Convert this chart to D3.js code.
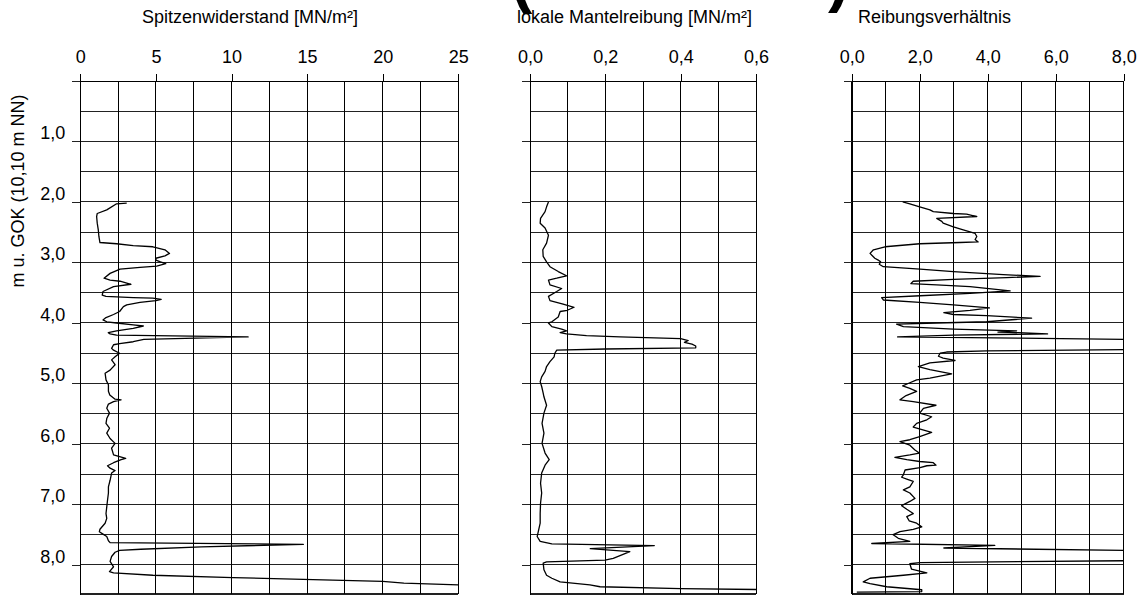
<!DOCTYPE html>
<html><head><meta charset="utf-8">
<script src="https://cdn.jsdelivr.net/npm/d3@7"></script>
<style>
body{margin:0;background:#fff}
svg{display:block}
text{font-family:"Liberation Sans",Arial,Helvetica,sans-serif;fill:#000}
</style>
</head><body>
<svg id="c" width="1142" height="595"></svg>
<script>
// ---------- data ----------
const depthTicks = [0,1,2,3,4,5,6,7,8];
const depthGrid = [0,0.5,1,1.5,2,2.5,3,3.5,4,4.5,5,5.5,6,6.5,7,7.5,8];

const qcTicks = [0,5,10,15,20,25];
const qcGrid  = [0,2.5,5,7.5,10,12.5,15,17.5,20,22.5,25];
const fsTicks = [0,0.2,0.4,0.6];
const fsGrid  = [0,0.1,0.2,0.3,0.4,0.5,0.6];
const rfTicks = [0,2,4,6,8];
const rfGrid  = [0,1,2,3,4,5,6,7,8];

const titles = ["Spitzenwiderstand [MN/m²]","lokale Mantelreibung [MN/m²]","Reibungsverhältnis"];
const depthTitle = "m u. GOK (10,10 m NN)";

const qcDepth = [2.02,2.03,2.13,2.19,2.24,2.35,2.46,2.57,2.67,2.69,2.72,2.74,2.79,2.85,2.89,2.93,2.96,2.99,3.02,3.06,3.08,3.11,3.18,3.26,3.29,3.31,3.36,3.40,3.48,3.54,3.56,3.58,3.59,3.61,3.63,3.66,3.70,3.73,3.81,3.86,3.91,3.95,3.98,4.00,4.03,4.05,4.09,4.13,4.16,4.18,4.20,4.23,4.27,4.31,4.34,4.36,4.42,4.45,4.50,4.56,4.61,4.69,4.78,4.83,4.94,5.02,5.13,5.19,5.26,5.27,5.30,5.34,5.41,5.49,5.58,5.66,5.74,5.82,5.91,5.99,6.07,6.18,6.21,6.24,6.26,6.31,6.36,6.40,6.44,6.48,6.60,6.71,6.81,6.93,7.04,7.15,7.23,7.31,7.41,7.45,7.49,7.53,7.60,7.63,7.66,7.70,7.74,7.76,7.79,7.86,7.94,8.03,8.11,8.13,8.17,8.21,8.25,8.27,8.30,8.33,8.34];
const qcValue = [3.07,2.4,1.75,1.12,1.08,1.12,1.19,1.23,1.3,2.4,3.5,4.8,5.6,5.9,5.6,5.0,5.0,5.3,5.65,5.05,3.95,2.63,1.97,1.57,1.97,2.63,3.35,2.2,1.5,1.45,1.7,3.5,4.8,5.35,5.0,3.95,3.07,2.85,2.6,2.2,1.7,1.5,1.75,2.4,3.5,4.17,3.5,2.4,1.85,1.97,2.4,11.1,4.2,3.5,2.6,2.2,2.07,2.2,2.6,2.3,2.07,2.3,1.97,1.64,1.7,1.86,1.86,1.95,2.3,2.7,2.2,1.86,1.75,1.93,1.75,1.7,1.93,1.75,1.97,2.3,2.07,2.2,2.6,3.0,2.7,2.2,1.8,1.97,2.3,2.07,1.97,1.86,1.86,1.8,1.75,1.7,1.75,1.64,1.3,1.26,1.5,1.75,1.86,1.97,14.75,8.0,4.0,2.6,2.3,2.07,1.97,2.2,1.93,2.2,4.8,10.1,16.7,20.0,21.4,25.0,26.0];

const fsDepth = [2.00,2.08,2.16,2.27,2.35,2.43,2.55,2.68,2.79,2.90,2.99,3.07,3.15,3.22,3.26,3.29,3.37,3.43,3.48,3.56,3.63,3.69,3.74,3.79,3.81,3.90,3.98,4.00,4.06,4.10,4.13,4.16,4.18,4.21,4.23,4.26,4.29,4.32,4.35,4.38,4.41,4.43,4.45,4.50,4.56,4.64,4.72,4.80,4.89,4.97,5.05,5.16,5.22,5.36,5.49,5.66,5.82,5.99,6.15,6.26,6.35,6.48,6.65,6.81,6.98,7.15,7.31,7.45,7.53,7.61,7.65,7.68,7.73,7.78,7.89,7.92,7.95,7.97,8.08,8.17,8.22,8.28,8.33,8.36,8.39,8.41];
const fsValue = [0.049,0.044,0.040,0.028,0.027,0.040,0.049,0.044,0.034,0.035,0.044,0.053,0.075,0.097,0.071,0.049,0.053,0.084,0.071,0.049,0.053,0.088,0.117,0.099,0.080,0.075,0.058,0.049,0.058,0.084,0.097,0.080,0.097,0.150,0.239,0.40,0.42,0.41,0.43,0.44,0.44,0.20,0.071,0.066,0.064,0.053,0.044,0.040,0.031,0.027,0.031,0.035,0.037,0.044,0.037,0.032,0.037,0.032,0.040,0.051,0.040,0.031,0.028,0.031,0.028,0.027,0.027,0.022,0.019,0.027,0.058,0.33,0.16,0.265,0.221,0.199,0.044,0.035,0.037,0.044,0.058,0.080,0.159,0.186,0.40,0.65];

const rfDepth = [2.00,2.03,2.08,2.13,2.16,2.19,2.20,2.24,2.27,2.32,2.35,2.41,2.46,2.52,2.57,2.62,2.66,2.67,2.69,2.74,2.79,2.85,2.93,2.96,2.99,3.03,3.07,3.11,3.15,3.20,3.23,3.25,3.28,3.31,3.35,3.37,3.40,3.47,3.51,3.55,3.58,3.62,3.66,3.70,3.75,3.79,3.83,3.86,3.88,3.92,3.98,4.00,4.02,4.06,4.10,4.13,4.15,4.16,4.18,4.20,4.23,4.25,4.27,4.28,4.43,4.44,4.46,4.48,4.50,4.55,4.58,4.62,4.66,4.72,4.77,4.84,4.91,4.94,5.00,5.04,5.08,5.13,5.20,5.27,5.30,5.36,5.41,5.49,5.55,5.60,5.66,5.72,5.81,5.88,5.93,5.96,6.02,6.10,6.15,6.18,6.22,6.26,6.29,6.31,6.35,6.36,6.39,6.43,6.51,6.55,6.58,6.62,6.71,6.76,6.81,6.90,6.95,7.02,7.08,7.15,7.20,7.27,7.31,7.37,7.41,7.45,7.50,7.56,7.61,7.645,7.675,7.72,7.76,7.77,7.92,7.93,7.96,7.98,8.07,8.13,8.17,8.22,8.28,8.31,8.36,8.41,8.44,8.45];
const rfValue = [1.5,1.71,2.0,2.3,2.4,2.99,3.38,3.68,2.5,2.65,2.69,2.99,3.28,3.63,3.68,3.63,3.72,3.18,2.0,0.98,0.64,0.54,0.68,0.78,0.85,0.81,0.93,2.01,2.99,4.46,5.54,4.56,2.99,1.81,1.74,2.5,3.48,4.66,3.48,2.01,0.88,0.93,2.0,2.99,4.05,3.48,2.71,2.99,3.97,5.29,3.97,2.5,1.32,1.52,2.99,4.85,4.3,4.9,5.76,2.99,1.35,4.95,8.0,12,12,8.0,3.97,2.79,2.6,2.55,2.69,3.04,2.3,1.96,2.3,2.94,2.3,1.91,1.66,1.5,1.71,1.91,1.6,1.42,1.81,2.48,2.11,2.0,2.35,2.21,1.91,1.81,2.35,2.0,1.71,1.42,1.71,1.86,1.99,1.71,1.27,1.62,2.0,2.4,2.48,2.21,2.01,1.57,1.52,1.47,1.62,1.81,1.71,1.52,1.71,1.86,1.71,1.47,1.62,1.81,1.62,1.69,1.91,2.06,1.81,1.42,1.22,1.37,1.71,0.59,4.21,2.71,8.0,12,12,8.0,2.0,1.71,1.76,2.21,1.52,0.54,0.34,0.54,1.03,2.06,2.06,0.15];

// ---------- chart ----------
const de = d3.formatLocale({decimal:",", thousands:".", grouping:[3], currency:["","€"]});
const f0 = de.format(".0f"), f1 = de.format(".1f");

const svg = d3.select("#c");
const TOP = 81, BOTTOM = 594;
const y = d3.scaleLinear().domain([0, 8.48]).range([TOP, BOTTOM]);

const panels = [
  {title:titles[0], tx:142, x0:80.3, x1:458.3, domain:[0,25],  ticks:qcTicks, grid:qcGrid, fmt:f0, depth:qcDepth, value:qcValue, labels:true},
  {title:titles[1], tx:517, x0:530,  x1:756,   domain:[0,0.6], ticks:fsTicks, grid:fsGrid, fmt:f1, depth:fsDepth, value:fsValue, labels:false},
  {title:titles[2], tx:858, x0:851.7,x1:1123.7,domain:[0,8],   ticks:rfTicks, grid:rfGrid, fmt:f1, depth:rfDepth, value:rfValue, labels:false}
];

const FONT = '"Liberation Sans",Arial,Helvetica,sans-serif';

panels.forEach((p, i) => {
  const x = d3.scaleLinear().domain(p.domain).range([p.x0, p.x1]);
  const g = svg.append("g");

  svg.append("clipPath").attr("id", "clip" + i)
    .append("rect").attr("x", p.x0).attr("y", TOP).attr("width", p.x1 - p.x0).attr("height", BOTTOM - TOP);

  // horizontal grid
  g.append("g").selectAll("line").data(depthGrid).join("line")
    .attr("x1", p.x0).attr("x2", p.x1)
    .attr("y1", d => y(d)).attr("y2", d => y(d))
    .attr("stroke", "#222").attr("stroke-width", 1).attr("shape-rendering", "crispEdges");
  // bottom border
  g.append("line").attr("x1", p.x0).attr("x2", p.x1).attr("y1", BOTTOM).attr("y2", BOTTOM)
    .attr("stroke", "#222").attr("stroke-width", 1.5).attr("shape-rendering", "crispEdges");
  // vertical grid
  g.append("g").selectAll("line").data(p.grid).join("line")
    .attr("x1", d => x(d)).attr("x2", d => x(d))
    .attr("y1", TOP).attr("y2", BOTTOM)
    .attr("stroke", "#000").attr("stroke-width", 1).attr("shape-rendering", "crispEdges");

  // top axis
  const ax = d3.axisTop(x).tickValues(p.ticks).tickFormat(p.fmt).tickSize(7).tickPadding(11).tickSizeOuter(0);
  const gx = g.append("g").attr("transform", `translate(0,${TOP})`).call(ax);
  gx.attr("font-size", 18).attr("font-family", FONT);
  gx.selectAll("path,line").attr("stroke", "#000").attr("shape-rendering", "crispEdges");

  // left axis
  const ay = d3.axisLeft(y).tickValues(depthTicks).tickSize(8).tickSizeOuter(0).tickPadding(7)
    .tickFormat(d => (p.labels && d > 0) ? f1(d) : "");
  const gy = g.append("g").attr("transform", `translate(${p.x0},0)`).call(ay);
  gy.attr("font-size", 18).attr("font-family", FONT);
  gy.select(".domain").attr("stroke", "#000").attr("shape-rendering", "crispEdges");
  gy.selectAll("line").attr("stroke", "#222").attr("shape-rendering", "crispEdges");
  gy.selectAll("text").attr("dy", "-0.14em");

  // title
  svg.append("text").attr("x", p.tx).attr("y", 23).attr("font-size", 18).text(p.title);

  // curve
  const idx = d3.range(p.depth.length);
  const line = d3.line().x(k => x(p.value[k])).y(k => y(p.depth[k]));
  svg.append("path").datum(idx)
    .attr("clip-path", `url(#clip${i})`)
    .attr("d", line)
    .attr("fill", "none").attr("stroke", "#000").attr("stroke-width", 1.3)
    .attr("stroke-linejoin", "round");
});

// depth axis title
svg.append("text").attr("transform", "translate(24,191) rotate(-90)")
  .attr("text-anchor", "middle").attr("font-size", 18).text(depthTitle);

// partially visible large brackets at the top edge
svg.append("text").attr("x", 511).attr("y", 1).attr("font-size", 64).attr("font-weight", "bold").text("(");
svg.append("text").attr("x", 828).attr("y", 0).attr("font-size", 64).attr("font-weight", "bold").text(")");
</script>
</body></html>
